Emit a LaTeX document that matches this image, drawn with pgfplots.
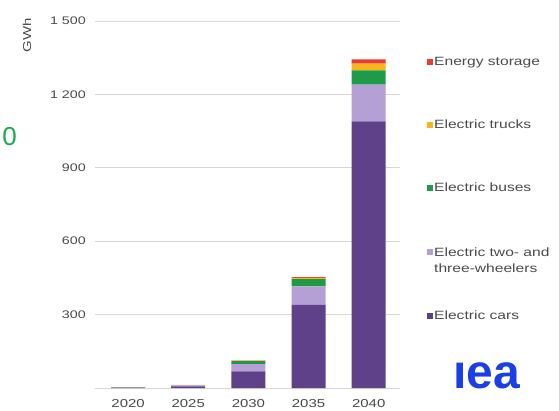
\documentclass[border=0pt]{standalone}
\usepackage{pgfplots}
\pgfplotsset{compat=1.18}
\usepackage{fontspec}
\setmainfont{Liberation Sans}
\newfontfamily\chartfont[FakeStretch=1.3]{Liberation Sans}
\newfontfamily\logofont{Liberation Sans}
\definecolor{cars}{HTML}{5E4189}
\definecolor{twothree}{HTML}{B5A0D6}
\definecolor{buses}{HTML}{1E9B48}
\definecolor{trucks}{HTML}{F9B51C}
\definecolor{storage}{HTML}{E63B2E}
\definecolor{txt}{HTML}{4A4A4A}
\definecolor{gridc}{HTML}{D6D6D6}
\definecolor{ieablue}{HTML}{1A3FE6}
\definecolor{glow}{HTML}{1DA84A}

\pgfplotstableread{
x cars twothree buses trucks storage
0 2    1    0.5  0   0
1 7    4    1    0.5 0
2 68   30   12   2   1
3 340  75   30   5   3
4 1090 150  58   28  17
}\data

\begin{document}
\begin{tikzpicture}
\path[use as bounding box] (0,0) rectangle (559pt,410pt);
\begin{axis}[
  at={(95pt,22pt)}, anchor=south west,
  scale only axis, width=305pt, height=367pt,
  ybar stacked, bar width=34pt,
  xmin=-0.55, xmax=4.52, ymin=0, ymax=1500,
  xtick={0,1,2,3,4}, xticklabels={2020,2025,2030,2035,2040},
  ytick={0,300,600,900,1200,1500},
  yticklabels={,300,600,900,1 200,1 500},
  axis line style={draw=none},
  major tick length=0pt, tick style={draw=none},
  xmajorgrids=false, ymajorgrids=true,
  major grid style={draw=gridc, line width=0.8pt},
  xticklabel style={font=\chartfont\fontsize{11.5}{13}\selectfont, text=txt, inner sep=0pt, yshift=-11pt},
  yticklabel style={font=\chartfont\fontsize{11}{13}\selectfont, text=txt, inner sep=0pt, xshift=-9pt},
  legend reversed,
  legend cell align=left,
  legend style={at={(1.0885,0.905)}, anchor=north west, draw=none, fill=none, inner sep=0pt,
    font=\chartfont\fontsize{12}{15}\selectfont, text=txt, row sep=51pt,
    nodes={inner sep=1pt}},
  legend image code/.code={\fill[#1] (0pt,-3pt) rectangle (6pt,3pt);},
]
\addplot[fill=cars, draw=none] table[x=x, y=cars] {\data};
\addplot[fill=twothree, draw=none] table[x=x, y=twothree] {\data};
\addplot[fill=buses, draw=none] table[x=x, y=buses] {\data};
\addplot[fill=trucks, draw=none] table[x=x, y=trucks] {\data};
\addplot[fill=storage, draw=none] table[x=x, y=storage] {\data};
\legend{Electric cars, {\begin{tabular}[t]{@{}l@{}}Electric two- and\\[1pt]three-wheelers\end{tabular}}, Electric buses, Electric trucks, Energy storage}
\end{axis}
\node[rotate=90, text=txt, font=\chartfont\fontsize{11.5}{13}\selectfont] at (27pt,375pt) {GWh};
\node[text=glow, font=\fontsize{26}{28}\selectfont, anchor=east, inner sep=0pt] at (17pt,273pt) {0};
\node[text=ieablue, font=\logofont\bfseries\fontsize{48}{50}\selectfont, anchor=base, inner sep=0pt] at (487pt,22pt) {ıea};
\end{tikzpicture}
\end{document}
